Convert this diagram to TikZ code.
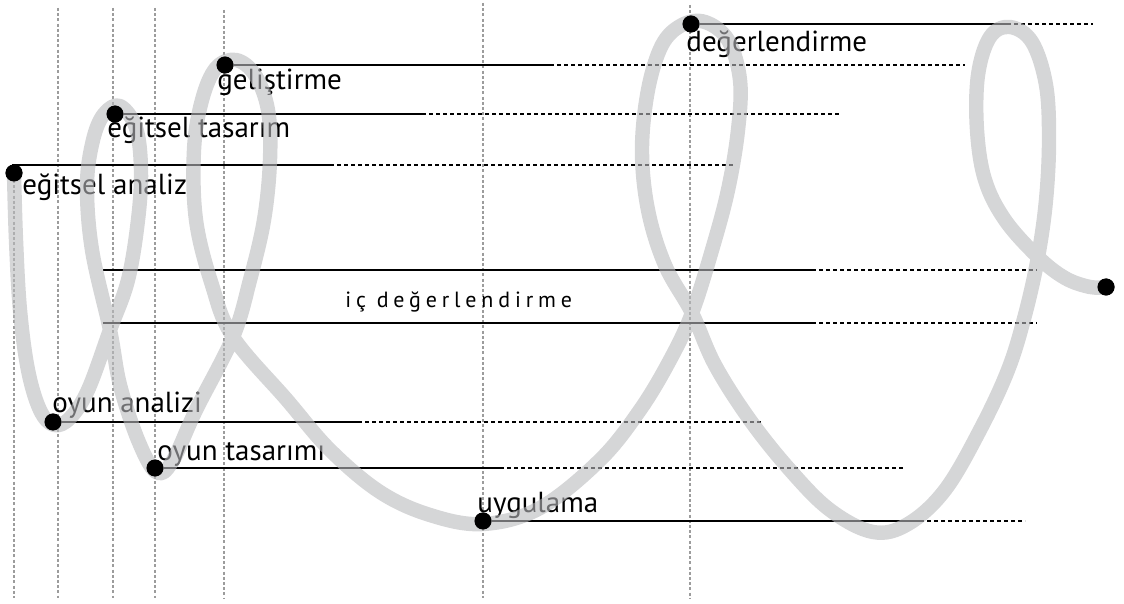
\documentclass[tikz,border=0pt]{standalone}
\usepackage{fontspec}
\setmainfont{PT Sans}
\newfontfamily\spacedfont[LetterSpace=22]{PT Sans}
\definecolor{ribbon}{HTML}{B9BABD}
\definecolor{guidegray}{HTML}{9C9C9C}

\begin{document}
\begin{tikzpicture}[x=0.5pt,y=-0.5pt,
  dot/.style={circle,fill=black,inner sep=0pt,minimum size=8.5pt},
  lbl/.style={anchor=base west,inner sep=0pt,font=\fontsize{14.5}{17}\selectfont},
  full/.style={line width=1pt},
  dots/.style={line width=1.4pt,dash pattern=on 2.2pt off 1.3pt},
  guide/.style={guidegray,line width=1.2pt,dash pattern=on 1.5pt off 1.1pt},
  band/.style={ribbon,opacity=0.6,line width=7.2pt,line cap=round,line join=round}]
\useasboundingbox (0,0) rectangle (1124,604);
\foreach \gx/\gy in {14/180,58/8,113/8,155/8,224/10,483/3,690/5}
  \draw[guide] (\gx,\gy) -- (\gx,598);
\node[dot] (ea) at (14,173) {};
\node[dot] (et) at (115,114) {};
\node[dot] (gl) at (225,65) {};
\node[dot] (dg) at (691,24) {};
\node[dot] (oa) at (53,422) {};
\node[dot] (ot) at (155,468) {};
\node[dot] (ug) at (483,521) {};
\node[dot] (fin) at (1106,287) {};
\draw[full] (12,165) coordinate (ea-a) -- ++(318,0) coordinate (ea-m);
\draw[dots] (ea-m) -- ++(403,0);
\foreach \n/\s/\d in {dg/316/86,gl/325/415,et/307/418,oa/305/405,ot/345/405,ug/437/105}{
  \draw[full] (\n) -- ++(\s,0) coordinate (\n-m);
  \draw[dots] (\n-m) -- ++(\d,0);
}
\coordinate (ic-a) at (103,270);
\coordinate (ic-b) at (103,323);
\foreach \c in {ic-a,ic-b}{
  \draw[full] (\c) -- ++(709,0) coordinate (\c-m);
  \draw[dots] (\c-m) -- ++(225,0);
}
\node[lbl] (ea-t) at (22,195) {eğitsel analiz};
\node[lbl] (et-t) at (107,138) {eğitsel tasarım};
\node[lbl] (gl-t) at (217,90) {geliştirme};
\node[lbl] (dg-t) at (686,52) {değerlendirme};
\node[lbl] (oa-t) at (52,412) {oyun analizi};
\node[lbl] (ot-t) at (157,460) {oyun tasarımı};
\node[lbl] (ug-t) at (477,512) {uygulama};
\node[anchor=base west,inner sep=0pt,font=\spacedfont\fontsize{11}{13}\selectfont] (ic) at (345,307) {iç değerlendirme};
\draw[band] plot[smooth,tension=0.6] coordinates {
  (14,173) (16,240) (20,310) (28,370) (40,410) (54,425) (70,418) (88,390) (110,330)
  (128,280) (138,220) (141,170) (136,128) (120,106) (104,114) (93,140) (87,185) (92,250) (110,330)
  (120,385) (138,440) (156,472) (172,462) (196,410) (233,337)
  (250,280) (264,220) (270,160) (268,110) (255,75) (236,60) (216,68) (202,100) (194,150) (196,220) (212,285) (233,337)
  (287,400) (330,450) (380,492) (430,515) (483,524)
  (540,508) (600,460) (640,410) (670,360) (692,313)
  (712,250) (728,190) (738,130) (740,80) (728,40) (705,22) (682,25) (662,45) (648,90) (642,150) (648,210) (665,265) (692,313)
  (715,365) (750,420) (790,470) (830,510) (873,532) (908,524) (945,490) (980,430) (1008,370) (1025,315) (1038,257)
  (1046,200) (1049,140) (1046,85) (1032,42) (1010,27) (990,37) (978,75) (977,130) (985,180) (1005,220) (1038,257)
  (1065,278) (1090,287) (1106,287)};
\foreach \n in {ea,et,gl,dg,oa,ot,ug,fin}
  \fill (\n) circle (4.25pt);
\end{tikzpicture}
\end{document}
